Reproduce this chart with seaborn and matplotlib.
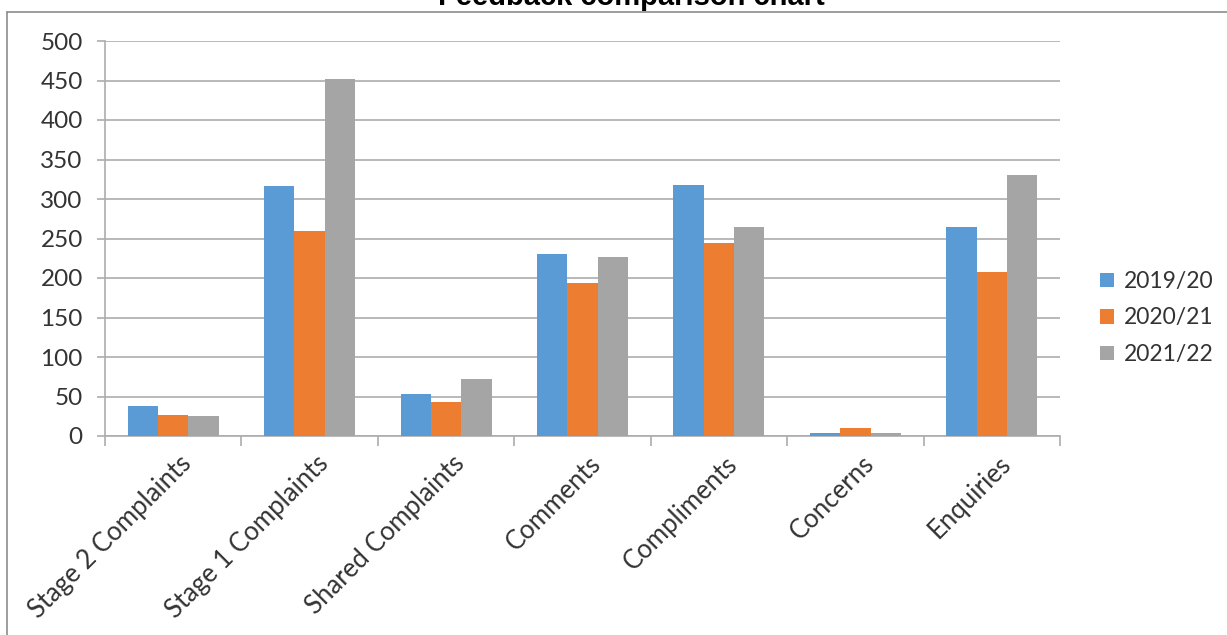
import matplotlib
matplotlib.use("Agg")
import matplotlib.pyplot as plt
import matplotlib.transforms as mtransforms
from matplotlib.patches import Patch
from matplotlib.lines import Line2D
import numpy as np
import pandas as pd
import seaborn as sns

# Feedback counts per category and reporting year
categories = ["Stage 2 Complaints", "Stage 1 Complaints", "Shared Complaints",
              "Comments", "Compliments", "Concerns", "Enquiries"]
years = ["2019/20", "2020/21", "2021/22"]
counts_2019_20 = [38, 317, 53, 231, 318, 4, 265]
counts_2020_21 = [27, 260, 43, 194, 244, 10, 208]
counts_2021_22 = [25, 452, 72, 226, 265, 4, 330]
y_ticks = list(range(0, 501, 50))

colors = ["#5B9BD5", "#ED7D31", "#A5A5A5"]
grid_color = "#ADADAD"
text_color = "#333333"

sns.set_theme(style="white")
plt.rcParams["font.family"] = ["Lato", "DejaVu Sans"]

df = pd.DataFrame({
    "category": categories * 3,
    "year": [years[0]] * 7 + [years[1]] * 7 + [years[2]] * 7,
    "count": counts_2019_20 + counts_2020_21 + counts_2021_22,
})

W, H = 1227, 635
fig = plt.figure(figsize=(W / 100, H / 100), dpi=100)
ax = fig.add_axes([105 / W, 1 - 436 / H, (1060 - 105) / W, (436 - 41) / H])

sns.barplot(data=df, x="category", y="count", hue="year", order=categories,
            hue_order=years, palette=colors, saturation=1, width=0.667,
            linewidth=0, ax=ax, legend=False, zorder=3)

ax.set_xlim(-0.5, len(categories) - 0.5)
ax.set_ylim(0, 500)
ax.set_yticks(y_ticks)
ax.set_xlabel("")
ax.set_ylabel("")

# horizontal gridlines behind the bars
ax.yaxis.grid(True, color=grid_color, linewidth=1.2, zorder=0)
ax.set_axisbelow(True)

for side in ["top", "right"]:
    ax.spines[side].set_visible(False)
for side in ["left", "bottom"]:
    ax.spines[side].set_color(grid_color)
    ax.spines[side].set_linewidth(1.2)

ax.tick_params(axis="y", which="major", direction="out", length=6, width=1.2,
               color=grid_color, pad=10, labelsize=17.5, labelcolor=text_color,
               left=True)
# category separators as minor ticks on the x axis
ax.set_xticks(np.arange(-0.5, len(categories), 1.0), minor=True)
ax.tick_params(axis="x", which="minor", direction="out", length=7, width=1.2,
               color=grid_color, bottom=True)
ax.tick_params(axis="x", which="major", length=0, pad=11, labelsize=18.5,
               labelcolor=text_color)
offset = mtransforms.ScaledTranslation(6 / 100, 0, fig.dpi_scale_trans)
for lab in ax.get_xticklabels():
    lab.set_rotation(45)
    lab.set_ha("right")
    lab.set_va("top")
    lab.set_rotation_mode("anchor")
    lab.set_transform(lab.get_transform() + offset)

handles = [Patch(facecolor=c, edgecolor="none") for c in colors]
fig.legend(handles, years, loc="center left",
           bbox_to_anchor=(1100 / W, 1 - 318 / H), frameon=False,
           fontsize=16.5, labelcolor=text_color, handlelength=0.6,
           handleheight=0.6, handletextpad=0.45, labelspacing=0.68,
           borderpad=0, borderaxespad=0)

# chart area frame
fig.add_artist(Line2D([7 / W, 7 / W], [0, 1 - 12 / H], color="#8C8C8C",
                      linewidth=1.2, transform=fig.transFigure))
fig.add_artist(Line2D([7 / W, 1], [1 - 12 / H, 1 - 12 / H], color="#8C8C8C",
                      linewidth=1.2, transform=fig.transFigure))

fig.text(631 / W, 1 - 5 / H, "Feedback comparison chart", ha="center",
         va="baseline", fontsize=21, fontweight="bold",
         family=["Liberation Sans", "DejaVu Sans"], color="black")

fig.savefig("out.png", dpi=100, facecolor="white")
